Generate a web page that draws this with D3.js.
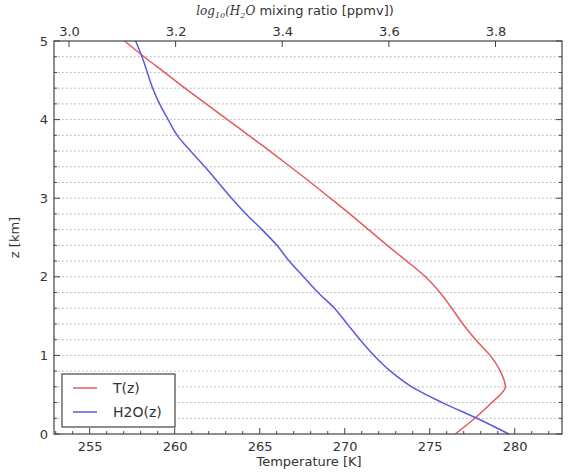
<!DOCTYPE html>
<html>
<head>
<meta charset="utf-8">
<script src="https://cdn.jsdelivr.net/npm/d3@7"></script>
<style>
body { margin: 0; background: #fff; }
text { font-family: "DejaVu Sans", sans-serif; fill: #333; }
</style>
</head>
<body>
<script>
// heights (km)
var z = [0, 0.2, 0.4, 0.6, 0.8, 1.0, 1.2, 1.4, 1.6, 1.8, 2.0, 2.2, 2.4, 2.6, 2.8,
         3.0, 3.2, 3.4, 3.6, 3.8, 4.0, 4.2, 4.4, 4.6, 4.8, 5.0];
// temperature (K)
var temp = [276.5, 277.65, 278.65, 279.45, 279.15, 278.55, 277.7, 276.95, 276.3, 275.6, 274.75,
            273.65, 272.5, 271.4, 270.3, 269.15, 268.0, 266.8, 265.6, 264.35, 263.1,
            261.85, 260.6, 259.4, 258.2, 257.05];
// log10 water vapour mixing ratio (ppmv)
var h2o = [3.825, 3.765, 3.70, 3.643, 3.603, 3.572, 3.546, 3.522, 3.498, 3.467, 3.440,
           3.413, 3.390, 3.362, 3.332, 3.305, 3.280, 3.255, 3.228, 3.203, 3.186,
           3.170, 3.157, 3.147, 3.137, 3.125];

var tempTicks = [255, 260, 265, 270, 275, 280];
var h2oTicks = [3.0, 3.2, 3.4, 3.6, 3.8];
var zTicks = [0, 1, 2, 3, 4, 5];
var seriesNames = ["T(z)", "H2O(z)"];
var colors = ["#e35b5f", "#5a5ae0"];

var w = 569, h = 472;
var pLeft = 54, pRight = 562, pTop = 41, pBottom = 434;

var svg = d3.select("body").append("svg").attr("width", w).attr("height", h);

var x = d3.scaleLinear().domain([252.9, 282.78]).range([pLeft, pRight]);
var x2 = d3.scaleLinear().domain([2.9719, 3.9247]).range([pLeft, pRight]);
var y = d3.scaleLinear().domain([0, 5]).range([pBottom, pTop]);

// dotted grid every 0.2 km
var gridVals = d3.range(1, 25).map(function(d){ return d * 0.2; });
svg.append("g").selectAll("line").data(gridVals).enter().append("line")
  .attr("x1", pLeft).attr("x2", pRight)
  .attr("y1", function(d){ return y(d); }).attr("y2", function(d){ return y(d); })
  .attr("stroke", "#aaa").attr("stroke-width", 1).attr("stroke-dasharray", "1.5,2.5");

// bottom axis
var bottomAxis = d3.axisBottom(x).tickValues(tempTicks).tickSize(0).tickPadding(8).tickFormat(d3.format("d"));
var gb = svg.append("g").attr("transform", "translate(0," + pBottom + ")").call(bottomAxis);
gb.select(".domain").remove();
gb.selectAll("text").attr("font-size", 13);

// top axis
var topAxis = d3.axisTop(x2).tickValues(h2oTicks).tickSize(0).tickPadding(5).tickFormat(d3.format(".1f"));
var gt = svg.append("g").attr("transform", "translate(0," + pTop + ")").call(topAxis);
gt.select(".domain").remove();
gt.selectAll("text").attr("font-size", 13);

// left axis
var leftAxis = d3.axisLeft(y).tickValues(zTicks).tickSize(0).tickPadding(6).tickFormat(d3.format("d"));
var gl = svg.append("g").attr("transform", "translate(" + pLeft + ",0)").call(leftAxis);
gl.select(".domain").remove();
gl.selectAll("text").attr("font-size", 13);

// tick marks (inward)
var ticks = svg.append("g").attr("stroke", "#444").attr("stroke-width", 1);
d3.range(253, 283).forEach(function(t){
  var big = tempTicks.indexOf(t) >= 0;
  ticks.append("line").attr("x1", x(t)).attr("x2", x(t))
    .attr("y1", pBottom).attr("y2", pBottom - (big ? 6 : 3));
});
h2oTicks.forEach(function(t){
  ticks.append("line").attr("x1", x2(t)).attr("x2", x2(t)).attr("y1", pTop).attr("y2", pTop + 6);
});
d3.range(0, 26).forEach(function(i){
  var v = i * 0.2;
  var len = (i % 5 == 0) ? 6 : 3;
  ticks.append("line").attr("x1", pLeft).attr("x2", pLeft + len).attr("y1", y(v)).attr("y2", y(v));
  ticks.append("line").attr("x1", pRight).attr("x2", pRight - len).attr("y1", y(v)).attr("y2", y(v));
});

// lines
var tLine = d3.line().x(function(d, i){ return x(temp[i]); }).y(function(d){ return y(d); }).curve(d3.curveMonotoneY);
var hLine = d3.line().x(function(d, i){ return x2(h2o[i]); }).y(function(d){ return y(d); }).curve(d3.curveMonotoneY);

svg.append("path").datum(z).attr("d", tLine).attr("fill", "none")
  .attr("stroke", colors[0]).attr("stroke-width", 1.5);
svg.append("path").datum(z).attr("d", hLine).attr("fill", "none")
  .attr("stroke", colors[1]).attr("stroke-width", 1.5);

// frame
svg.append("rect").attr("x", pLeft).attr("y", pTop).attr("width", pRight - pLeft).attr("height", pBottom - pTop)
  .attr("fill", "none").attr("stroke", "#444").attr("stroke-width", 1.2);

// axis labels
svg.append("text").attr("x", (pLeft + pRight) / 2 + 1).attr("y", 466).attr("text-anchor", "middle")
  .attr("font-size", 13).text("Temperature [K]");
svg.append("text").attr("transform", "translate(19," + ((pTop + pBottom) / 2) + ") rotate(-90)")
  .attr("text-anchor", "middle").attr("font-size", 13).text("z [km]");

var tl = svg.append("text").attr("x", 295).attr("y", 15).attr("text-anchor", "middle").attr("font-size", 13);
tl.append("tspan").attr("font-family", "DejaVu Serif").attr("font-style", "italic").attr("font-size", 12).text("log");
tl.append("tspan").attr("font-family", "DejaVu Serif").attr("font-style", "italic").attr("font-size", 8).attr("dy", 3).text("10");
tl.append("tspan").attr("font-family", "DejaVu Serif").attr("font-style", "italic").attr("font-size", 12).attr("dy", -3).text("(H");
tl.append("tspan").attr("font-family", "DejaVu Serif").attr("font-style", "italic").attr("font-size", 8).attr("dy", 3).text("2");
tl.append("tspan").attr("font-family", "DejaVu Serif").attr("font-style", "italic").attr("font-size", 12).attr("dy", -3).text("O");
tl.append("tspan").text(" mixing ratio [ppmv])");

// legend
var lg = svg.append("g").attr("transform", "translate(62,374)");
lg.append("rect").attr("width", 113).attr("height", 53).attr("fill", "#fff")
  .attr("stroke", "#444").attr("stroke-width", 1.2);
lg.selectAll(".ll").data(seriesNames).enter().append("line")
  .attr("x1", 11).attr("x2", 35)
  .attr("y1", function(d, i){ return 14 + i * 24; }).attr("y2", function(d, i){ return 14 + i * 24; })
  .attr("stroke", function(d, i){ return colors[i]; }).attr("stroke-width", 1.5);
lg.selectAll(".lt").data(seriesNames).enter().append("text")
  .attr("x", 51).attr("y", function(d, i){ return 19 + i * 24; })
  .attr("font-size", 14).text(function(d){ return d; });
</script>
</body>
</html>
